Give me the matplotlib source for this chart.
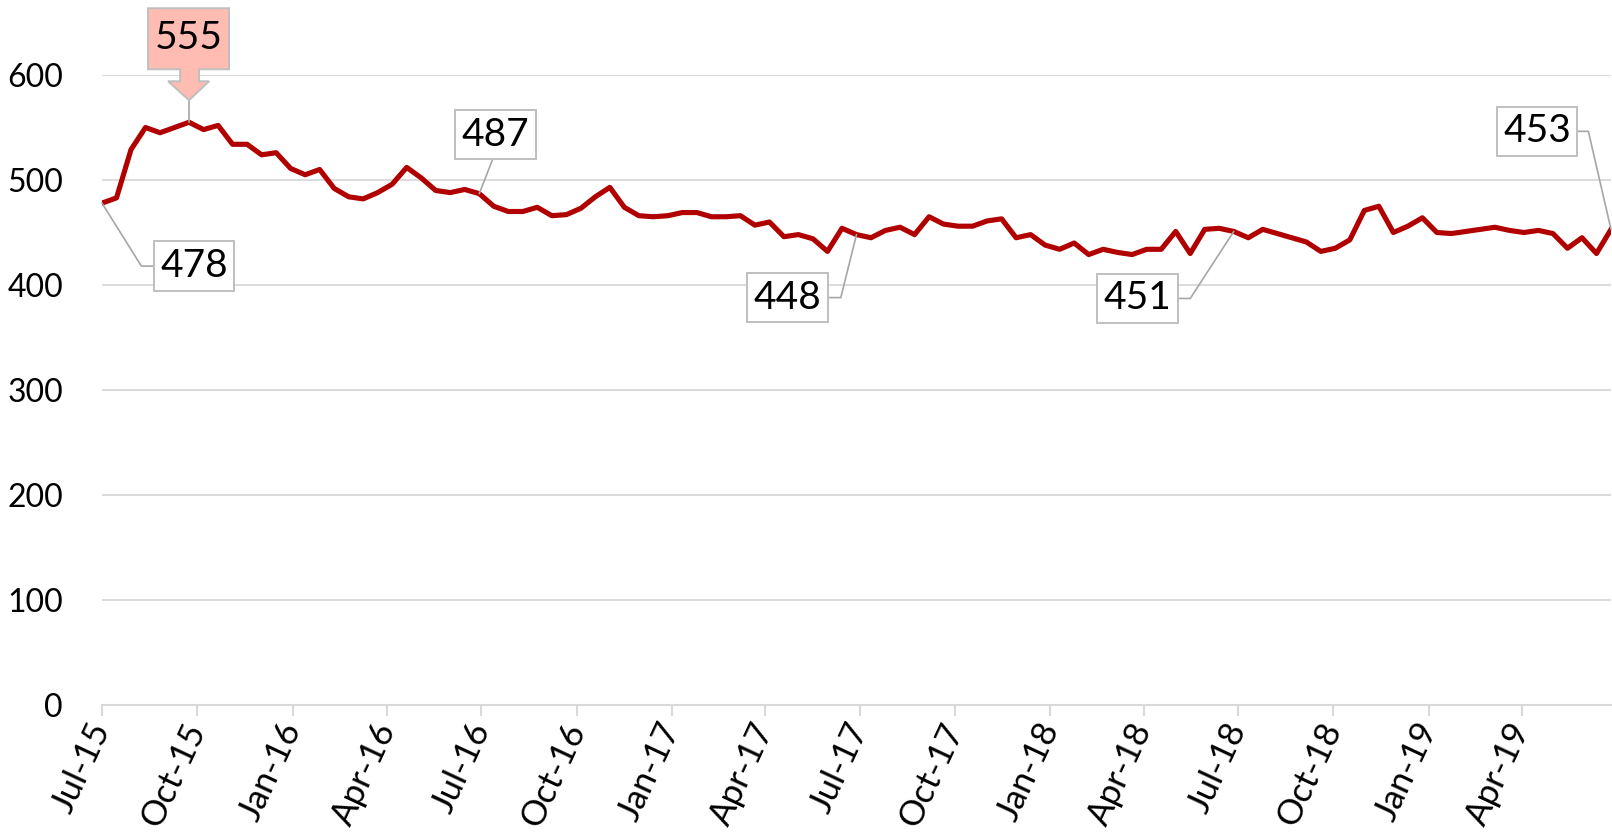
import matplotlib
matplotlib.use('Agg')
import matplotlib.pyplot as plt
import matplotlib.dates as mdates
import matplotlib.transforms as mtransforms
from matplotlib.patches import Polygon
import pandas as pd

plt.rcParams['font.family'] = ['Lato', 'DejaVu Sans']

start_date = '2015-07-01'
step = '14D'
values = [478, 483, 529, 550, 545, 550, 555, 548, 552, 534,
          534, 524, 526, 511, 505, 510, 492, 484, 482, 488,
          496, 512, 502, 490, 488, 491, 487, 475, 470, 470,
          474, 466, 467, 473, 484, 493, 474, 466, 465, 466,
          469, 469, 465, 465, 466, 457, 460, 446, 448, 444,
          432, 454, 448, 445, 452, 455, 448, 465, 458, 456,
          456, 461, 463, 445, 448, 438, 434, 440, 429, 434,
          431, 429, 434, 434, 451, 430, 453, 454, 451, 445,
          453, 449, 445, 441, 432, 435, 443, 471, 475, 450,
          456, 464, 450, 449, 451, 453, 455, 452, 450, 452,
          449, 435, 445, 430, 453]
dates = pd.date_range(start_date, periods=len(values), freq=step)

y_ticks = [0, 100, 200, 300, 400, 500, 600]

# callouts: (index, label, text offset px (dx, dy), relpos, connection style)
callouts = [
    (0, '478', (92, -63), (0, 0.5), 'angle,angleA=0,angleB=-58,rad=0'),
    (26, '487', (16, 59), (0.5, 0), 'arc3,rad=0'),
    (52, '448', (-69, -63), (1, 0.5), 'angle,angleA=0,angleB=76,rad=0'),
    (78, '451', (-96, -67), (1, 0.5), 'angle,angleA=0,angleB=57,rad=0'),
    (104, '453', (-74, 98), (1, 0.5), 'angle,angleA=0,angleB=-77,rad=0'),
]
peak_index = 6

W, H = 1612, 835
fig = plt.figure(figsize=(W / 100, H / 100), dpi=100)
ax = fig.add_axes([102 / W, 130 / H, 1509 / W, 630 / H])

ax.plot(dates, values, color='#B00000', lw=3.7, solid_joinstyle='round', zorder=3)

ax.set_xlim(dates[0], dates[-1])
ax.set_ylim(0, 600)
ax.set_yticks(y_ticks)
ax.yaxis.grid(True, color='#D9D9D9', lw=1.3)
ax.set_axisbelow(True)
for s in ['top', 'right', 'left']:
    ax.spines[s].set_visible(False)
ax.spines['bottom'].set_color('#D9D9D9')
ax.spines['bottom'].set_linewidth(1.5)

ax.xaxis.set_major_locator(mdates.MonthLocator(bymonth=[1, 4, 7, 10]))
ax.xaxis.set_major_formatter(mdates.DateFormatter('%b-%y'))
ax.tick_params(axis='x', length=8, color='#D9D9D9', width=1.5, labelsize=25, pad=6)
ax.tick_params(axis='y', length=0, labelsize=23, pad=28)
for lbl in ax.get_xticklabels():
    lbl.set_rotation(65)
    lbl.set_ha('right')
    lbl.set_va('center')
    lbl.set_rotation_mode('anchor')

for idx, txt, off, rp, cs in callouts:
    ax.annotate(txt, xy=(dates[idx], values[idx]), xytext=off,
                textcoords='offset pixels', ha='center', va='center',
                fontsize=28, color='black', annotation_clip=False,
                bbox=dict(boxstyle='square,pad=0.17', fc='white', ec='#BFBFBF', lw=1.4),
                arrowprops=dict(arrowstyle='-', color='#A6A6A6', lw=1.2,
                                connectionstyle=cs, relpos=rp,
                                shrinkA=0, shrinkB=0),
                zorder=5)

# peak callout with downward arrow shape
fig.canvas.draw()
px, py = ax.transData.transform((mdates.date2num(dates[peak_index]), values[peak_index]))
shape = [(-41, 114), (40, 114), (40, 53), (10, 53), (10, 41), (20, 41), (0, 22),
         (-21, 41), (-9, 41), (-9, 53), (-41, 53)]
verts = [(px + dx, py + dy) for dx, dy in shape]
poly = Polygon(verts, closed=True, fc='#FFBCB2', ec='#BFBFBF', lw=1.4,
               transform=mtransforms.IdentityTransform(), zorder=6)
fig.patches.append(poly)
fig.lines.append(plt.Line2D([px, px], [py + 22, py], color='#A6A6A6', lw=1.2,
                            transform=mtransforms.IdentityTransform(), zorder=6))
fig.text(px, py + 84, str(values[peak_index]), ha='center', va='center', fontsize=28,
         transform=mtransforms.IdentityTransform(), zorder=7)

fig.savefig('out.png', dpi=100)
